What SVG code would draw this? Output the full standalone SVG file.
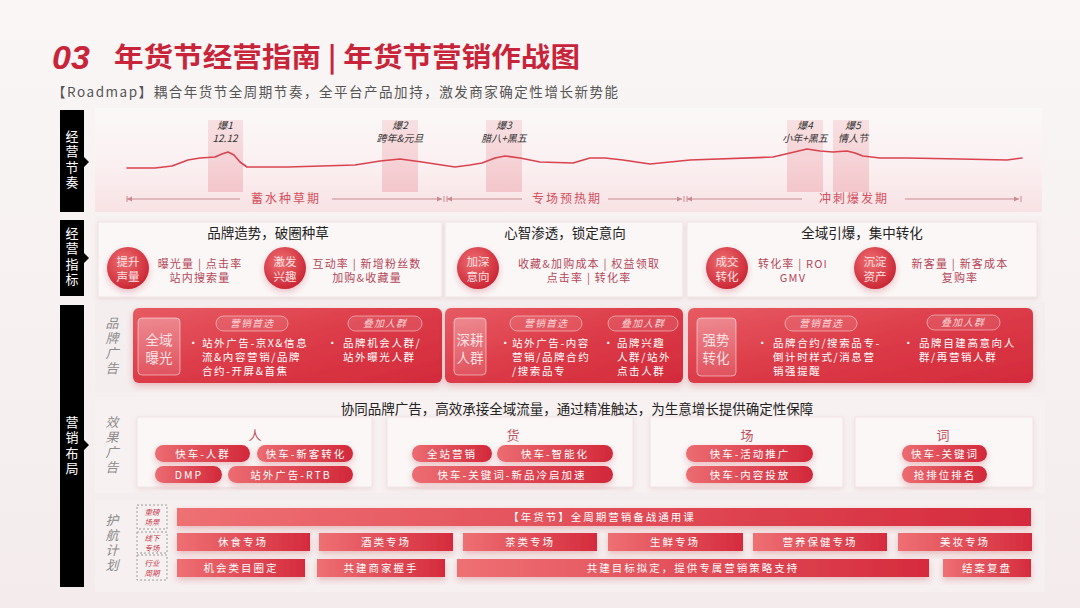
<svg xmlns="http://www.w3.org/2000/svg" width="1080" height="608" viewBox="0 0 1080 608">
<defs>
<linearGradient id="bg" x1="0" y1="0" x2="0" y2="1"><stop offset="0" stop-color="#faf6f6"/><stop offset="1" stop-color="#f4ecec"/></linearGradient>
<linearGradient id="rhythm" x1="0" y1="0" x2="0" y2="1"><stop offset="0" stop-color="#fbf8f8"/><stop offset="0.55" stop-color="#fbf0f1"/><stop offset="1" stop-color="#f8e2e4"/></linearGradient>
<linearGradient id="hl" x1="0" y1="0" x2="0" y2="1"><stop offset="0" stop-color="#f5d2d5" stop-opacity="0.6"/><stop offset="1" stop-color="#f2c0c5" stop-opacity="0.85"/></linearGradient>
<radialGradient id="circ" cx="0.4" cy="0.35" r="0.7"><stop offset="0" stop-color="#ef6f72"/><stop offset="1" stop-color="#c92231"/></radialGradient>
<linearGradient id="card" x1="0" y1="0" x2="1" y2="1"><stop offset="0" stop-color="#e75b63"/><stop offset="0.5" stop-color="#dc3b48"/><stop offset="1" stop-color="#d32a3b"/></linearGradient>
<linearGradient id="pill" x1="0" y1="0" x2="1" y2="0"><stop offset="0" stop-color="#ec6c71"/><stop offset="1" stop-color="#d2283a"/></linearGradient>
<linearGradient id="bar" x1="0" y1="0" x2="1" y2="0"><stop offset="0" stop-color="#ee7073"/><stop offset="1" stop-color="#d52b3d"/></linearGradient>
<linearGradient id="box" x1="0" y1="0" x2="0" y2="1"><stop offset="0" stop-color="#ffffff" stop-opacity="0.3"/><stop offset="1" stop-color="#ffffff" stop-opacity="0.12"/></linearGradient>
<filter id="sh" x="-10%" y="-30%" width="120%" height="170%"><feDropShadow dx="0" dy="3" stdDeviation="3" flood-color="#c0303c" flood-opacity="0.28"/></filter>
<filter id="sg" x="-10%" y="-30%" width="120%" height="170%"><feDropShadow dx="0" dy="2" stdDeviation="2.5" flood-color="#b08080" flood-opacity="0.18"/></filter>
<marker id="ar" markerWidth="6" markerHeight="6" refX="5" refY="3" orient="auto" markerUnits="userSpaceOnUse"><path d="M0,0.5 L5,3 L0,5.5 z" fill="#c98a90"/></marker>
<marker id="al" markerWidth="6" markerHeight="6" refX="1" refY="3" orient="auto" markerUnits="userSpaceOnUse"><path d="M6,0.5 L1,3 L6,5.5 z" fill="#c98a90"/></marker>
<style>
text{font-family:"Noto Sans CJK SC","Noto Sans",sans-serif}
.side{fill:#ffffff;font-size:13px;writing-mode:vertical-rl;letter-spacing:2.5px}
.rl{fill:#333;font-size:10px;font-style:italic;text-anchor:middle}
.ph{fill:#d4505e;font-size:12px;letter-spacing:2px;text-anchor:middle}
.hd{fill:#222;font-size:13.5px;text-anchor:middle}
.ind{fill:#b44759;font-size:11px;letter-spacing:1.2px;text-anchor:middle}
.ctx{fill:#fde2e3;font-size:11.5px;text-anchor:middle}
.ct{fill:#ffffff;font-size:10.5px;letter-spacing:1.6px}
.pt{fill:#fbd3d7;font-size:10px;font-style:italic;text-anchor:middle;letter-spacing:1px}
.bx{fill:#fbe1e3;font-size:13.5px;text-anchor:middle}
.vl{fill:#8c8c8c;font-size:13px;font-style:italic;writing-mode:vertical-rl;letter-spacing:2px}
.pl{fill:#ffffff;font-size:10.5px;letter-spacing:2px;text-anchor:middle}
.eh{fill:#c0505e;font-size:13px;text-anchor:middle}
.dl{fill:#c8384a;font-size:7.5px;font-style:italic;text-anchor:middle}
.pillbox{fill:#ffffff;fill-opacity:0.1;stroke:#ffffff;stroke-opacity:0.45;stroke-width:1}
.ibox{fill:url(#box);stroke:#ffffff;stroke-opacity:0.5;stroke-width:1}
.sub{fill:#fbf7f7;stroke:#f0e4e5;stroke-width:1}
.blk{fill:#000000}
.phl{stroke:#c98a90;stroke-width:1;fill:none}
.vline{stroke:#555;stroke-width:1}
</style>
</defs>

<rect x="0" y="0" width="1080" height="608" fill="url(#bg)"/>

<g id="title">
<text x="52" y="69" font-size="34" font-weight="bold" font-style="italic" fill="#c8243a" style="font-family:'Liberation Sans',sans-serif">03</text>
<text x="114" y="67" font-size="27" font-weight="bold" fill="#c8243a" textLength="466" lengthAdjust="spacingAndGlyphs">年货节经营指南 | 年货节营销作战图</text>
<text x="52" y="97" font-size="13.5" fill="#555" textLength="566" lengthAdjust="spacing">【Roadmap】耦合年货节全周期节奏，全平台产品加持，激发商家确定性增长新势能</text>
</g>

<g id="side-labels">
<path class="blk" d="M60,110 H84 V157 L89,162 L84,167 V212 H60 Z"/>
<text class="side" x="72" y="129.5">经营节奏</text>
<path class="blk" d="M60,220 H84 V253 L89,258 L84,263 V296 H60 Z"/>
<text class="side" x="72" y="226.5">经营指标</text>
<path class="blk" d="M60,305 H84 V440 L89,445 L84,450 V587 H60 Z"/>
<text class="side" x="72" y="415.5">营销布局</text>
</g>

<g id="rhythm">
<rect x="95" y="108" width="947" height="104" fill="url(#rhythm)"/>
<rect x="208" y="120" width="35" height="72" fill="url(#hl)"/>
<rect x="382" y="120" width="36" height="72" fill="url(#hl)"/>
<rect x="486" y="120" width="36" height="72" fill="url(#hl)"/>
<rect x="787" y="120" width="36" height="72" fill="url(#hl)"/>
<rect x="833" y="120" width="36" height="72" fill="url(#hl)"/>
<polyline fill="none" stroke="#d9434f" stroke-width="1.6" stroke-linejoin="round" stroke-linecap="round" points="127,168 155,168 172,166 188,160 200,158 215,157 222,154 228,152 234,155 240,162 247,167 288,167 355,165 380,161 400,159 422,162 455,167 470,165 482,163 495,158 505,156 520,158 540,162 573,163 590,158 605,158 623,160 650,164 690,160 773,157 790,153 807,149 820,151 833,152 847,151 855,153 863,156 880,158 907,158 960,159 1007,160 1022,158"/>
<text class="rl" x="225" y="129">爆1<tspan x="225" dy="13">12.12</tspan></text>
<text class="rl" x="400" y="129">爆2<tspan x="400" dy="13">跨年&amp;元旦</tspan></text>
<text class="rl" x="504" y="129">爆3<tspan x="504" dy="13">腊八+黑五</tspan></text>
<text class="rl" x="805" y="129">爆4<tspan x="805" dy="13">小年+黑五</tspan></text>
<text class="rl" x="853" y="129">爆5<tspan x="853" dy="13">情人节</tspan></text>
<text class="ph" x="286" y="203">蓄水种草期</text>
<text class="ph" x="567" y="203">专场预热期</text>
<text class="ph" x="854" y="203">冲刺爆发期</text>
</g>

<g id="connectors">
<line class="phl" x1="127" y1="196" x2="127" y2="202"/><line class="phl" x1="127" y1="199" x2="240" y2="199" marker-start="url(#al)"/>
<line class="phl" x1="332" y1="199" x2="442" y2="199" marker-end="url(#ar)"/><line class="phl" x1="444" y1="196" x2="444" y2="202"/>
<line class="phl" x1="447" y1="196" x2="447" y2="202"/><line class="phl" x1="447" y1="199" x2="522" y2="199" marker-start="url(#al)"/>
<line class="phl" x1="608" y1="199" x2="682" y2="199" marker-end="url(#ar)"/><line class="phl" x1="684" y1="196" x2="684" y2="202"/>
<line class="phl" x1="687" y1="196" x2="687" y2="202"/><line class="phl" x1="687" y1="199" x2="802" y2="199" marker-start="url(#al)"/>
<line class="phl" x1="905" y1="199" x2="1019" y2="199" marker-end="url(#ar)"/><line class="phl" x1="1021" y1="196" x2="1021" y2="202"/>
<line class="vline" x1="125" y1="310" x2="125" y2="383"/><path d="M125,342 L129,345 L125,348 Z" fill="#d0303f"/>
<line class="vline" x1="125" y1="402" x2="125" y2="487"/><path d="M125,442 L129,445 L125,448 Z" fill="#d0303f"/>
<line class="vline" x1="125" y1="505" x2="125" y2="580"/><path d="M125,539 L129,542 L125,545 Z" fill="#d0303f"/>
</g>

<g id="indicators">
<rect x="95" y="216" width="947" height="84" fill="#f7f0f0"/>
<g id="ind-1">
<rect class="sub" x="98" y="222" width="344" height="75" filter="url(#sg)"/>
<text class="hd" x="268" y="238">品牌造势，破圈种草</text>
<circle cx="128" cy="268" r="21" fill="url(#circ)" filter="url(#sh)"/>
<text class="ctx" x="128" y="266">提升<tspan x="128" dy="14.5">声量</tspan></text>
<text class="ind" x="200" y="268">曝光量 | 点击率<tspan x="200" dy="14">站内搜索量</tspan></text>
<circle cx="285" cy="268" r="21" fill="url(#circ)" filter="url(#sh)"/>
<text class="ctx" x="285" y="266">激发<tspan x="285" dy="14.5">兴趣</tspan></text>
<text class="ind" x="367" y="268">互动率 | 新增粉丝数<tspan x="367" dy="14">加购&amp;收藏量</tspan></text>
</g>
<g id="ind-2">
<rect class="sub" x="445" y="222" width="238" height="75" filter="url(#sg)"/>
<text class="hd" x="565" y="238">心智渗透，锁定意向</text>
<circle cx="478" cy="268" r="21" fill="url(#circ)" filter="url(#sh)"/>
<text class="ctx" x="478" y="266">加深<tspan x="478" dy="14.5">意向</tspan></text>
<text class="ind" x="589" y="268">收藏&amp;加购成本 | 权益领取<tspan x="589" dy="14">点击率 | 转化率</tspan></text>
</g>
<g id="ind-3">
<rect class="sub" x="687" y="222" width="350" height="75" filter="url(#sg)"/>
<text class="hd" x="862" y="238">全域引爆，集中转化</text>
<circle cx="727" cy="268" r="21" fill="url(#circ)" filter="url(#sh)"/>
<text class="ctx" x="727" y="266">成交<tspan x="727" dy="14.5">转化</tspan></text>
<text class="ind" x="793" y="268">转化率 | ROI<tspan x="793" dy="14">GMV</tspan></text>
<circle cx="875" cy="268" r="21" fill="url(#circ)" filter="url(#sh)"/>
<text class="ctx" x="875" y="266">沉淀<tspan x="875" dy="14.5">资产</tspan></text>
<text class="ind" x="960" y="268">新客量 | 新客成本<tspan x="960" dy="14">复购率</tspan></text>
</g>
</g>

<g id="brand-ads">
<rect x="95" y="302" width="950" height="90" fill="#f5eeee"/>
<text class="vl" x="112" y="316.5">品牌广告</text>
<g id="card-1">
<rect x="133" y="308" width="309" height="75" rx="6" fill="url(#card)" filter="url(#sh)"/>
<rect class="ibox" x="138" y="318" width="42" height="57" rx="4"/>
<text class="bx" x="159" y="345">全域<tspan x="159" dy="18">曝光</tspan></text>
<rect class="pillbox" x="216" y="316" width="72" height="15" rx="7.5"/><text class="pt" x="252" y="327">营销首选</text>
<rect class="pillbox" x="348" y="316" width="74" height="15" rx="7.5"/><text class="pt" x="385" y="327">叠加人群</text>
<text class="ct" x="188" y="347">•</text>
<text class="ct" x="202" y="347">站外广告-京X&amp;信息<tspan x="202" dy="14">流&amp;内容营销/品牌</tspan><tspan x="202" dy="14">合约-开屏&amp;首焦</tspan></text>
<text class="ct" x="327" y="347">•</text>
<text class="ct" x="343" y="347">品牌机会人群/<tspan x="343" dy="14">站外曝光人群</tspan></text>
</g>
<g id="card-2">
<rect x="445" y="308" width="238" height="75" rx="6" fill="url(#card)" filter="url(#sh)"/>
<rect class="ibox" x="454" y="318" width="32" height="57" rx="4"/>
<text class="bx" x="470" y="345">深耕<tspan x="470" dy="18">人群</tspan></text>
<rect class="pillbox" x="510" y="316" width="72" height="15" rx="7.5"/><text class="pt" x="546" y="327">营销首选</text>
<rect class="pillbox" x="608" y="316" width="70" height="15" rx="7.5"/><text class="pt" x="643" y="327">叠加人群</text>
<text class="ct" x="500" y="347">•</text>
<text class="ct" x="512" y="347">站外广告-内容<tspan x="512" dy="14">营销/品牌合约</tspan><tspan x="512" dy="14">/搜索品专</tspan></text>
<text class="ct" x="603" y="347">•</text>
<text class="ct" x="617" y="347">品牌兴趣<tspan x="617" dy="14">人群/站外</tspan><tspan x="617" dy="14">点击人群</tspan></text>
</g>
<g id="card-3">
<rect x="688" y="308" width="345" height="75" rx="6" fill="url(#card)" filter="url(#sh)"/>
<rect class="ibox" x="697" y="318" width="39" height="58" rx="4"/>
<text class="bx" x="716" y="345">强势<tspan x="716" dy="18">转化</tspan></text>
<rect class="pillbox" x="785" y="316" width="72" height="15" rx="7.5"/><text class="pt" x="821" y="327">营销首选</text>
<rect class="pillbox" x="927" y="315" width="73" height="15" rx="7.5"/><text class="pt" x="963" y="326">叠加人群</text>
<text class="ct" x="757" y="347">•</text>
<text class="ct" x="773" y="347">品牌合约/搜索品专-<tspan x="773" dy="14">倒计时样式/消息营</tspan><tspan x="773" dy="14">销强提醒</tspan></text>
<text class="ct" x="903" y="347">•</text>
<text class="ct" x="919" y="347">品牌自建高意向人<tspan x="919" dy="14">群/再营销人群</tspan></text>
</g>
</g>

<g id="effect-ads">
<rect x="95" y="397" width="950" height="96" fill="#f8f1f1"/>
<text class="vl" x="112" y="415.5">效果广告</text>
<text class="hd" x="577" y="414">协同品牌广告，高效承接全域流量，通过精准触达，为生意增长提供确定性保障</text>
<g id="eff-ren">
<rect class="sub" x="137" y="417" width="235" height="70" filter="url(#sg)"/>
<text class="eh" x="255" y="440">人</text>
<rect x="155" y="445" width="95" height="17" rx="8.5" fill="url(#pill)" filter="url(#sh)"/><text class="pl" x="203" y="457.5">快车-人群</text>
<rect x="257" y="445" width="96" height="17" rx="8.5" fill="url(#pill)" filter="url(#sh)"/><text class="pl" x="306" y="457.5">快车-新客转化</text>
<rect x="155" y="466" width="67" height="17" rx="8.5" fill="url(#pill)" filter="url(#sh)"/><text class="pl" x="189" y="478.5">DMP</text>
<rect x="228" y="466" width="125" height="17" rx="8.5" fill="url(#pill)" filter="url(#sh)"/><text class="pl" x="291" y="478.5">站外广告-RTB</text>
</g>
<g id="eff-huo">
<rect class="sub" x="387" y="417" width="246" height="70" filter="url(#sg)"/>
<text class="eh" x="513" y="440">货</text>
<rect x="412" y="445" width="80" height="17" rx="8.5" fill="url(#pill)" filter="url(#sh)"/><text class="pl" x="452" y="457.5">全站营销</text>
<rect x="497" y="445" width="116" height="17" rx="8.5" fill="url(#pill)" filter="url(#sh)"/><text class="pl" x="555" y="457.5">快车-智能化</text>
<rect x="412" y="466" width="201" height="17" rx="8.5" fill="url(#pill)" filter="url(#sh)"/><text class="pl" x="512" y="478.5">快车-关键词-新品冷启加速</text>
</g>
<g id="eff-chang">
<rect class="sub" x="650" y="417" width="193" height="70" filter="url(#sg)"/>
<text class="eh" x="747" y="440">场</text>
<rect x="686" y="445" width="127" height="17" rx="8.5" fill="url(#pill)" filter="url(#sh)"/><text class="pl" x="750" y="457.5">快车-活动推广</text>
<rect x="686" y="466" width="127" height="17" rx="8.5" fill="url(#pill)" filter="url(#sh)"/><text class="pl" x="750" y="478.5">快车-内容投放</text>
</g>
<g id="eff-ci">
<rect class="sub" x="855" y="417" width="178" height="70" filter="url(#sg)"/>
<text class="eh" x="943" y="440">词</text>
<rect x="902" y="445" width="85" height="17" rx="8.5" fill="url(#pill)" filter="url(#sh)"/><text class="pl" x="945" y="457.5">快车-关键词</text>
<rect x="902" y="466" width="85" height="17" rx="8.5" fill="url(#pill)" filter="url(#sh)"/><text class="pl" x="945" y="478.5">抢排位排名</text>
</g>
</g>

<g id="escort-plan">
<rect x="95" y="500" width="950" height="92" fill="#f6f0f0"/>
<text class="vl" x="112" y="513.5">护航计划</text>
<g id="tags">
<rect x="137" y="505" width="30" height="24" fill="none" stroke="#888" stroke-width="0.8" stroke-dasharray="2,2"/>
<text class="dl" x="152" y="515">重磅<tspan x="152" dy="9.5">场景</tspan></text>
<rect x="137" y="532" width="30" height="21" fill="none" stroke="#888" stroke-width="0.8" stroke-dasharray="2,2"/>
<text class="dl" x="152" y="541">线下<tspan x="152" dy="9.5">专场</tspan></text>
<rect x="137" y="555" width="30" height="25" fill="none" stroke="#888" stroke-width="0.8" stroke-dasharray="2,2"/>
<text class="dl" x="152" y="566">行业<tspan x="152" dy="9.5">周期</tspan></text>
</g>
<g id="row-1">
<rect x="177" y="508" width="854" height="18" fill="url(#bar)" filter="url(#sh)"/>
<text class="pl" x="602" y="521">【年货节】全周期营销备战通用课</text>
</g>
<g id="row-2">
<rect x="177" y="533" width="133" height="18" fill="url(#bar)" filter="url(#sh)"/><text class="pl" x="243" y="546">休食专场</text>
<rect x="319" y="533" width="134" height="18" fill="url(#bar)" filter="url(#sh)"/><text class="pl" x="386" y="546">酒类专场</text>
<rect x="463" y="533" width="134" height="18" fill="url(#bar)" filter="url(#sh)"/><text class="pl" x="530" y="546">茶类专场</text>
<rect x="608" y="533" width="135" height="18" fill="url(#bar)" filter="url(#sh)"/><text class="pl" x="675" y="546">生鲜专场</text>
<rect x="753" y="533" width="134" height="18" fill="url(#bar)" filter="url(#sh)"/><text class="pl" x="820" y="546">营养保健专场</text>
<rect x="898" y="533" width="134" height="18" fill="url(#bar)" filter="url(#sh)"/><text class="pl" x="965" y="546">美妆专场</text>
</g>
<g id="row-3">
<rect x="177" y="559" width="128" height="18" fill="url(#bar)" filter="url(#sh)"/><text class="pl" x="241" y="572">机会类目圈定</text>
<rect x="317" y="559" width="128" height="18" fill="url(#bar)" filter="url(#sh)"/><text class="pl" x="381" y="572">共建商家握手</text>
<rect x="457" y="559" width="472" height="18" fill="url(#bar)" filter="url(#sh)"/><text class="pl" x="693" y="572">共建目标拟定，提供专属营销策略支持</text>
<rect x="943" y="559" width="88" height="18" fill="url(#bar)" filter="url(#sh)"/><text class="pl" x="987" y="572">结案复盘</text>
</g>
</g>
</svg>
